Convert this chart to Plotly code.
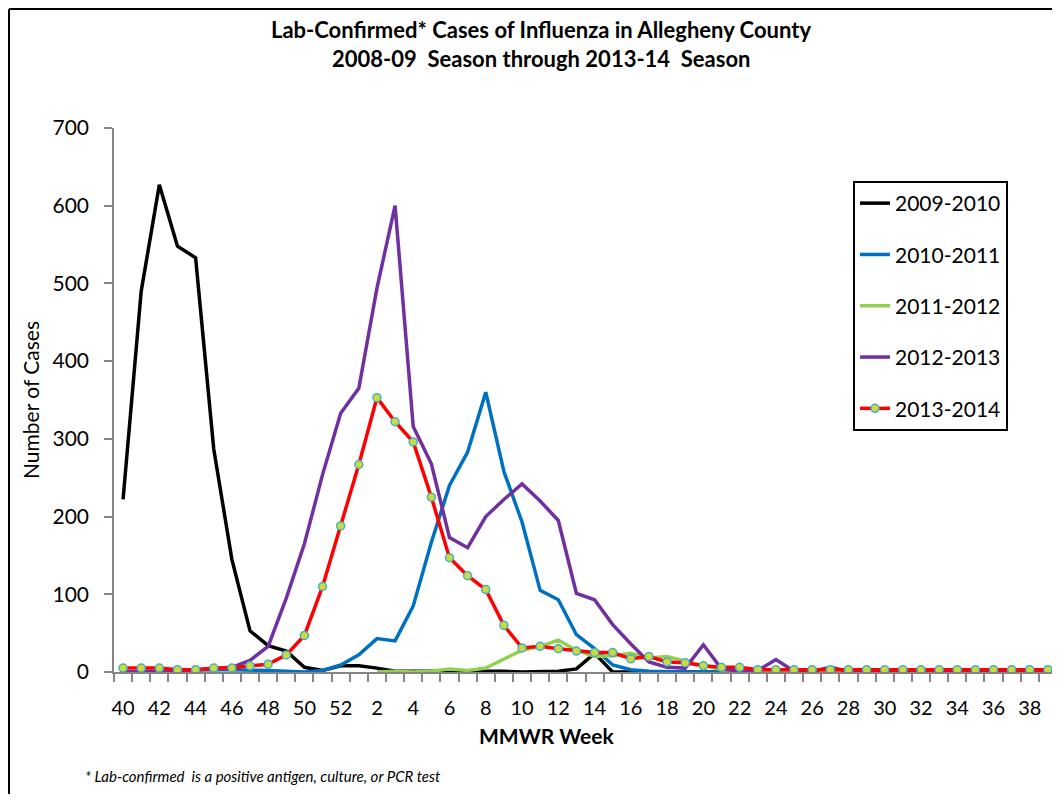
import plotly.graph_objects as go

weeks = list(range(40, 53)) + list(range(1, 40))

s2009_2010 = [222, 490, 627, 548, 533, 287, 145, 53, 34, 27, 6, 2, 8,
              8, 5, 1, 1, 1, 1, 2, 1, 1, 0, 1, 1, 4, 24, 0, 0, 0, 0,
              0, 0, 0, 0, 0, 0, 0, 0, 0, 0, 0, 0, 0, 0, 0, 0, 0, 0, 0, 0, 0]
s2010_2011 = [0, 0, 1, 2, 3, 3, 3, 3, 2, 1, 0, 2, 9,
              22, 43, 40, 85, 167, 240, 283, 360, 258, 193, 105, 93, 48, 30, 9, 3,
              1, 0, 0, 0, 0, 0, 0, 0, 0, 0, 0, 0, 0, 0, 0, 0, 0, 0, 0, 0, 0, 0, 0]
s2011_2012 = [None] * 14 + [0, 1, 0, 1, 4, 2, 5, 16, 28, 33, 41, 28, 20, 21, 24,
              18, 20, 14, 9, 3, 1, 1, 1, 1, 1, 1, 1, 1, 1, 1, 1, 1, 1, 1, 1, 1, 1, 1]
s2012_2013 = [0, 0, 0, 1, 3, 4, 6, 15, 33, 95, 165, 254, 333,
              365, 494, 600, 316, 268, 173, 160, 200, 222, 242, 220, 195, 101, 93, 61, 36,
              13, 6, 5, 35, 4, 1, 2, 16, 1, 1, 6, 1, 0, 0, 0, 0, 0, 0, 0, 0, 0, 0, 0]
s2013_2014 = [5, 5, 5, 3, 3, 5, 5, 8, 10, 22, 47, 110, 188,
              267, 353, 322, 296, 225, 147, 124, 106, 60, 31, 33, 30, 27, 25, 25, 17,
              20, 13, 12, 8, 6, 6, 3, 3, 3, 3, 3, 3, 3, 3, 3, 3, 3, 3, 3, 3, 3, 3, 3]

series_names = ["2009-2010", "2010-2011", "2011-2012", "2012-2013", "2013-2014"]
series_values = [s2009_2010, s2010_2011, s2011_2012, s2012_2013, s2013_2014]
series_colors = ["#000000", "#0070C0", "#92D050", "#7030A0", "#FF0000"]

y_ticks = [0, 100, 200, 300, 400, 500, 600, 700]

FONT = "Lato"
idx = list(range(len(weeks)))

fig = go.Figure()
for name, vals, col in zip(series_names, series_values, series_colors):
    is_last = name == "2013-2014"
    fig.add_trace(go.Scatter(
        x=idx, y=vals, name=name, legendgroup=name,
        mode="lines+markers" if is_last else "lines",
        line=dict(color=col, width=3.5),
        marker=dict(size=8, color="#C8DD3A", line=dict(color="#4BACC6", width=1.5)) if is_last else None,
        connectgaps=False,
    ))

label_idx = [i for i, w in enumerate(weeks) if w % 2 == 0]
label_txt = [str(weeks[i]) for i in label_idx]

# page has an 8px body margin; work in page pixels and convert
OFF = 8
W, H = 1052, 786
L, R = 106, 3
axis_bottom_div = 672 - OFF
top = 128 - OFF
bottom = H - axis_bottom_div
plot_w = W - L - R
plot_h = H - top - bottom


def px(X):
    return (X - OFF - L) / plot_w


def py(Y):
    return (axis_bottom_div - (Y - OFF)) / plot_h


fig.update_layout(
    width=W, height=H,
    margin=dict(l=L, r=R, t=top, b=bottom),
    paper_bgcolor="white", plot_bgcolor="white",
    font=dict(family=FONT, color="#000000"),
    showlegend=True,
    legend=dict(
        x=px(853), y=py(181), xanchor="left", yanchor="top",
        bordercolor="#000000", borderwidth=2, bgcolor="white",
        font=dict(size=21, family=FONT, color="#000000"),
        tracegroupgap=21, itemwidth=30,
    ),
    xaxis=dict(
        range=[-0.5, len(weeks) - 0.5],
        tickmode="array", tickvals=label_idx, ticktext=label_txt,
        ticks="", showline=True, linecolor="#868686", linewidth=1.5,
        showgrid=False, zeroline=False,
        ticklabelstandoff=17,
        tickfont=dict(size=20, family=FONT, color="#000000"),
        minor=dict(tickmode="linear", tick0=-0.5, dtick=1, ticks="outside",
                   ticklen=8, tickcolor="#868686", tickwidth=1.5, showgrid=False),
    ),
    yaxis=dict(
        range=[0, 700], tickmode="array", tickvals=y_ticks,
        ticks="outside", ticklen=8, tickcolor="#868686", tickwidth=1.5,
        showline=True, linecolor="#868686", linewidth=1.5,
        showgrid=False, zeroline=False,
        ticklabelstandoff=11,
        tickfont=dict(size=21, family=FONT, color="#000000"),
    ),
)

fig.add_annotation(
    xref="paper", yref="paper", x=px(541), y=py(30),
    text="<b>Lab-Confirmed* Cases of Influenza in Allegheny County</b>",
    showarrow=False, xanchor="center", yanchor="middle",
    font=dict(size=22, family=FONT, color="#000000"),
)
fig.add_annotation(
    xref="paper", yref="paper", x=px(541), y=py(58),
    text="<b>2008-09  Season through 2013-14  Season</b>",
    showarrow=False, xanchor="center", yanchor="middle",
    font=dict(size=22, family=FONT, color="#000000"),
)
fig.add_annotation(
    xref="paper", yref="paper", x=px(546), y=py(735),
    text="<b>MMWR Week</b>",
    showarrow=False, xanchor="center", yanchor="middle",
    font=dict(size=21, family=FONT, color="#000000"),
)
fig.add_annotation(
    xref="paper", yref="paper", x=px(30), y=py(400),
    text="Number of Cases", textangle=-90,
    showarrow=False, xanchor="center", yanchor="middle",
    font=dict(size=21, family=FONT, color="#000000"),
)
fig.add_annotation(
    xref="paper", yref="paper", x=px(83), y=py(776),
    text="<i>* Lab-confirmed  is a positive antigen, culture, or PCR test</i>",
    showarrow=False, xanchor="left", yanchor="middle",
    font=dict(size=15, family=FONT, color="#000000"),
)

# outer chart border (left and top edges visible in the frame)
fig.add_shape(type="line", xref="paper", yref="paper",
              x0=px(9), x1=px(9), y0=py(9), y1=py(810),
              line=dict(color="#000000", width=2), layer="below")
fig.add_shape(type="line", xref="paper", yref="paper",
              x0=px(9), x1=px(1070), y0=py(9), y1=py(9),
              line=dict(color="#000000", width=2), layer="below")

fig.write_html("out.html")
